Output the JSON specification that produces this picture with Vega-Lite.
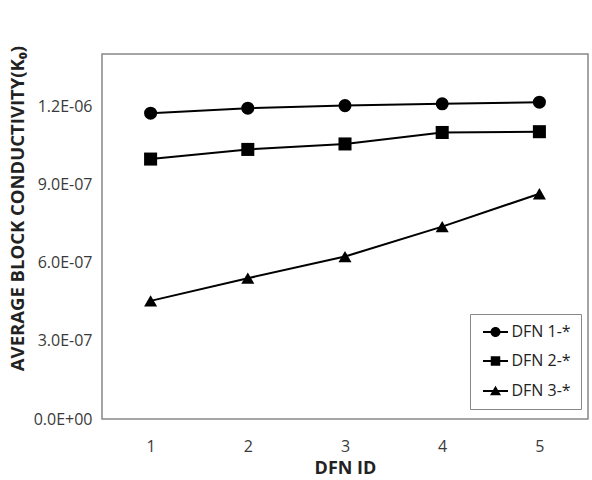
{
  "$schema": "https://vega.github.io/schema/vega-lite/v6.json",
  "width": 486,
  "height": 365,
  "autosize": "none",
  "padding": {"left": 102, "top": 54, "right": 4, "bottom": 61},
  "background": "white",
  "data": {
    "values": [
      {"series": "DFN 1-*", "id": "1", "value": 1.173e-6},
      {"series": "DFN 1-*", "id": "2", "value": 1.192e-6},
      {"series": "DFN 1-*", "id": "3", "value": 1.202e-6},
      {"series": "DFN 1-*", "id": "4", "value": 1.209e-6},
      {"series": "DFN 1-*", "id": "5", "value": 1.215e-6},
      {"series": "DFN 2-*", "id": "1", "value": 0.997e-6},
      {"series": "DFN 2-*", "id": "2", "value": 1.034e-6},
      {"series": "DFN 2-*", "id": "3", "value": 1.055e-6},
      {"series": "DFN 2-*", "id": "4", "value": 1.099e-6},
      {"series": "DFN 2-*", "id": "5", "value": 1.102e-6},
      {"series": "DFN 3-*", "id": "1", "value": 0.453e-6},
      {"series": "DFN 3-*", "id": "2", "value": 0.540e-6},
      {"series": "DFN 3-*", "id": "3", "value": 0.623e-6},
      {"series": "DFN 3-*", "id": "4", "value": 0.738e-6},
      {"series": "DFN 3-*", "id": "5", "value": 0.864e-6}
    ]
  },
  "encoding": {
    "x": {
      "field": "id",
      "type": "ordinal",
      "scale": {"type": "point", "padding": 0.5},
      "axis": {
        "title": "DFN ID",
        "labelAngle": 0,
        "labelPadding": 19,
        "titlePadding": 5
      }
    },
    "y": {
      "field": "value",
      "type": "quantitative",
      "scale": {"domain": [0, 1.4e-6], "nice": false},
      "axis": {
        "title": "AVERAGE BLOCK CONDUCTIVITY(K₀)",
        "values": [0, 3e-7, 6e-7, 9e-7, 1.2e-6],
        "labelExpr": "datum.value == 0 ? '0.0E+00' : format(datum.value / pow(10, floor(log(datum.value)/LN10 + 1e-9)), '.1f') + 'E-0' + (-floor(log(datum.value)/LN10 + 1e-9))",
        "labelPadding": 10,
        "titleX": -85,
        "titleY": 154,
        "titleBaseline": "middle",
        "titleAnchor": "middle",
        "titleFontSize": 18.5
      }
    }
  },
  "layer": [
    {
      "mark": {"type": "line", "color": "black", "strokeWidth": 2},
      "encoding": {"detail": {"field": "series"}}
    },
    {
      "mark": {"type": "point", "filled": true, "opacity": 1, "color": "black", "size": 170},
      "encoding": {
        "shape": {
          "field": "series",
          "type": "nominal",
          "scale": {"domain": ["DFN 1-*", "DFN 2-*", "DFN 3-*"], "range": ["circle", "square", "triangle-up"]},
          "legend": null
        }
      }
    },
    {
      "transform": [{"filter": "datum.id == 'none'"}],
      "mark": {"type": "point", "filled": true, "opacity": 1, "color": "black"},
      "encoding": {
        "shape": {
          "field": "series",
          "type": "nominal",
          "scale": {
            "domain": ["DFN 1-*", "DFN 2-*", "DFN 3-*"],
            "range": [
              "M-2.5,-0.2H2.5V0.2H-2.5ZM1,0A1,1,0,1,1,-1,0A1,1,0,1,1,1,0Z",
              "M-2.5,-0.2H2.5V0.2H-2.5ZM-0.95,-0.95H0.95V0.95H-0.95Z",
              "M-2.5,-0.2H2.5V0.2H-2.5ZM0,-1.05L1.1,0.85H-1.1Z"
            ]
          },
          "legend": {
            "title": null,
            "orient": "none",
            "legendX": 368,
            "legendY": 260,
            "padding": 10,
            "symbolOffset": 7.5,
            "strokeColor": "#888888",
            "fillColor": "white",
            "symbolSize": 100,
            "symbolFillColor": "black",
            "symbolOpacity": 1,
            "labelOffset": 8,
            "labelFontSize": 16,
            "rowPadding": 13
          }
        }
      }
    }
  ],
  "resolve": {"scale": {"shape": "independent"}, "legend": {"shape": "independent"}},
  "config": {
    "font": "Open Sans",
    "view": {"stroke": "#888888", "strokeWidth": 1.5},
    "axis": {
      "domain": false,
      "ticks": false,
      "grid": false,
      "labelFont": "Open Sans",
      "labelFontSize": 16,
      "labelColor": "#3a3a3a",
      "titleFont": "Open Sans",
      "titleFontSize": 18,
      "titleFontWeight": "bold",
      "titleColor": "#222222"
    },
    "legend": {"labelFont": "Open Sans", "labelColor": "#222222"}
  }
}
